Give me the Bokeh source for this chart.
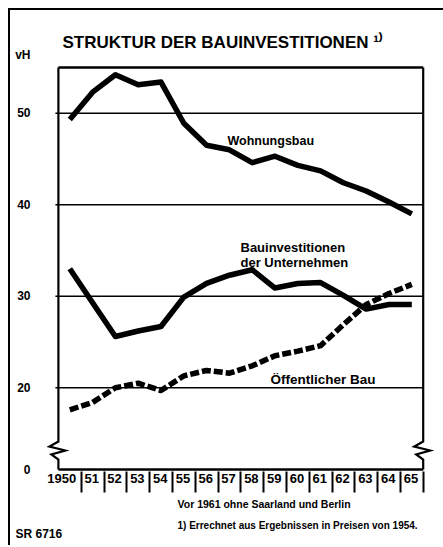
from bokeh.plotting import figure
from bokeh.models import FixedTicker, Label, Range1d, Title
from bokeh.embed import file_html
from bokeh.resources import INLINE

# ---------------- data (vH = percent) ----------------
years = list(range(1950, 1966))
x_tick_labels = ["1950", "51", "52", "53", "54", "55", "56", "57",
                 "58", "59", "60", "61", "62", "63", "64", "65"]
wohnungsbau = [49.3, 52.3, 54.2, 53.1, 53.4, 48.9, 46.5, 46.0,
               44.6, 45.3, 44.3, 43.7, 42.4, 41.5, 40.3, 39.0]
unternehmen = [33.0, 29.3, 25.6, 26.2, 26.7, 29.9, 31.4, 32.3,
               32.9, 30.9, 31.4, 31.5, 30.1, 28.6, 29.1, 29.1]
oeffentlich = [17.6, 18.4, 20.0, 20.5, 19.7, 21.3, 21.9, 21.6,
               22.4, 23.5, 24.0, 24.6, 26.9, 29.1, 30.3, 31.3]
y_ticks = [20, 30, 40, 50]
y_top = 55
zero_label = "0"
unit_text = "vH"

title_text = "STRUKTUR DER BAUINVESTITIONEN \u00b9\u207e"
lbl_wohn = "Wohnungsbau"
lbl_unt1 = "Bauinvestitionen"
lbl_unt2 = "der Unternehmen"
lbl_oeff = "Öffentlicher Bau"
foot1 = "Vor 1961 ohne Saarland und Berlin"
foot2 = "1) Errechnet aus Ergebnissen in Preisen von 1954."
source = "SR 6716"

# ---------------- layout (page pixels -> data) ----------------
ORIGIN = 10                     # canvas origin on the page (margin + border)
ML, MT, MR, MB = 34, 42, 8, 74
FW, FH = 391, 419
XS, YS = 22.8, 9.153            # px per year, px per vH
X0 = 1950 - (69.3 - (ORIGIN + ML)) / XS
X1 = X0 + FW / XS
Y1 = 50 + (112.7 - (ORIGIN + MT)) / YS
Y0 = Y1 - FH / YS


def dx_page(px):
    return X0 + (px - ORIGIN - ML) / XS


def dy_page(py):
    return Y1 - (py - ORIGIN - MT) / YS


x_left = years[0] - 0.5
x_right = years[-1] + 0.5
zero_pos = dy_page(469)          # where the broken axis shows "0"
break_top = dy_page(441)
unit_pos = dy_page(54)

FONT = "Liberation Sans"

p = figure(frame_width=FW, frame_height=FH,
           x_range=Range1d(X0, X1), y_range=Range1d(Y0, Y1),
           output_backend="svg", toolbar_location=None,
           min_border_left=ML, min_border_right=MR,
           min_border_top=MT, min_border_bottom=MB)
p.outline_line_color = None
p.grid.visible = False
p.background_fill_color = "white"
p.border_fill_color = "white"
p.styles = {"margin-left": "8px", "margin-top": "8px",
            "border-top": "2px solid black", "border-left": "2px solid black"}

# title
p.title.text = title_text
p.title.text_font = FONT
p.title.text_font_style = "bold"
p.title.text_font_size = "17px"
p.title.text_color = "black"
p.title.align = "left"
p.title.offset = 62 - (ORIGIN + ML)
p.title.standoff = 1

# grid lines and frame
for gy in y_ticks:
    p.segment(x0=x_left - 3 / XS, x1=x_right, y0=gy, y1=gy,
              line_color="black", line_width=1.6)
p.segment(x0=x_left, x1=x_right, y0=y_top, y1=y_top, line_color="black", line_width=2.4)
p.segment(x0=x_left, x1=x_right, y0=zero_pos, y1=zero_pos, line_color="black", line_width=2.4)

zig = [(0, 0), (-9, 5), (7, 9), (-7, 13), (0, 18)]
for bx in (x_left, x_right):
    xs = [bx, bx] + [bx + dx / XS for dx, dy in zig] + [bx]
    ys = [y_top, break_top] + [break_top - dy / YS for dx, dy in zig] + [zero_pos]
    p.line(xs, ys, line_color="black", line_width=2.2, line_join="miter")

# data series
p.line(years, wohnungsbau, line_color="black", line_width=5.5, line_join="round")
p.line(years, unternehmen, line_color="black", line_width=5.5, line_join="round")
p.line(years, oeffentlich, line_color="black", line_width=5.5, line_join="round",
       line_dash="9 3")

# x axis: labels right-aligned in their cells, separators as minor ticks
XL_SIZE = 13
major = [y + 0.5 - (5 + len(t) * 0.556 * XL_SIZE / 2) / XS
         for y, t in zip(years, x_tick_labels)]
p.xaxis.ticker = FixedTicker(ticks=major, minor_ticks=[y + 0.5 for y in years])
p.xaxis.major_label_overrides = {m: t for m, t in zip(major, x_tick_labels)}
p.xaxis.axis_line_color = None
p.xaxis.major_tick_line_color = None
p.xaxis.minor_tick_line_color = "black"
p.xaxis.minor_tick_line_width = 2
p.xaxis.minor_tick_out = 21
p.xaxis.minor_tick_in = 0
p.xaxis.major_label_standoff = -19
p.xaxis.major_label_text_font = FONT
p.xaxis.major_label_text_font_style = "bold"
p.xaxis.major_label_text_font_size = f"{XL_SIZE}px"
p.xaxis.major_label_text_color = "black"

# y axis
p.yaxis.ticker = FixedTicker(ticks=[zero_pos] + y_ticks + [unit_pos])
p.yaxis.major_label_overrides = {zero_pos: zero_label, unit_pos: unit_text}
p.yaxis.axis_line_color = None
p.yaxis.major_tick_line_color = None
p.yaxis.minor_tick_line_color = None
p.yaxis.major_label_standoff = 8
p.yaxis.major_label_text_font = FONT
p.yaxis.major_label_text_font_style = "bold"
p.yaxis.major_label_text_font_size = "12px"
p.yaxis.major_label_text_color = "black"


def add_label(text, px, py, size):
    p.add_layout(Label(x=dx_page(px), y=dy_page(py), text=text,
                       text_font=FONT, text_font_style="bold",
                       text_font_size=size, text_color="black",
                       text_align="left", text_baseline="alphabetic"))


add_label(lbl_wohn, 227, 140, "12.5px")
add_label(lbl_unt1, 240, 247, "13px")
add_label(lbl_unt2, 240, 262, "13px")
add_label(lbl_oeff, 270, 379, "13.5px")

# footnotes below the axis
for txt, off, sz, so in ((foot1, 177, "10.5px", 20),
                         (foot2, 177, "10px", -4),
                         (source, 15, "12px", -8)):
    t = Title(text=txt, align="left", offset=off - (ORIGIN + ML),
              text_font=FONT, text_font_style="bold", text_font_size=sz,
              text_color="black", standoff=so)
    p.add_layout(t, "below")

open("out.html", "w").write(file_html(p, INLINE))
